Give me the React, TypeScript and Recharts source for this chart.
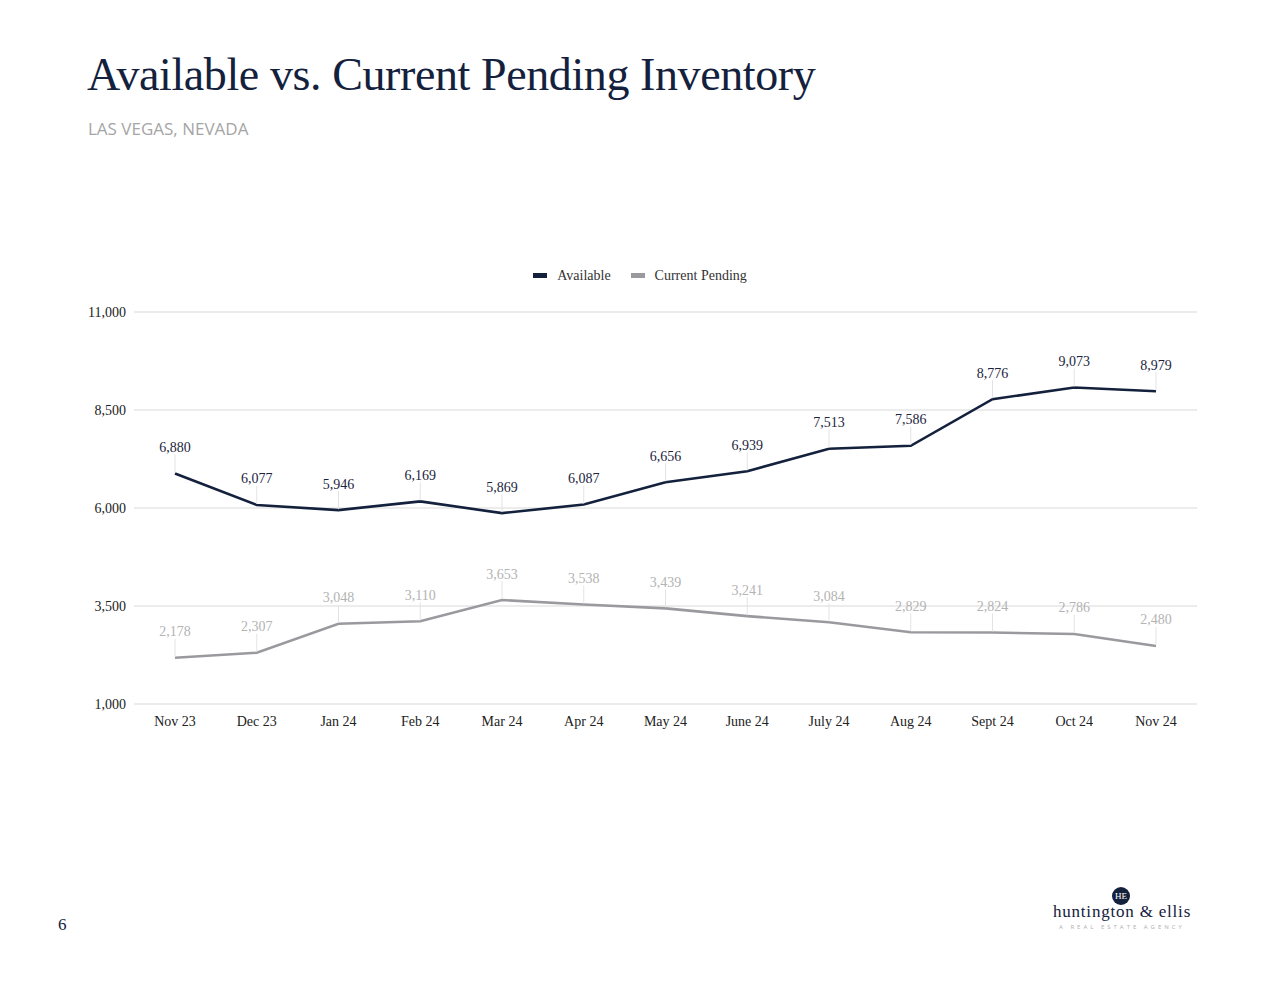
import React from 'react';
import { LineChart, Line, XAxis, YAxis, CartesianGrid, LabelList } from 'recharts';

const months = ['Nov 23', 'Dec 23', 'Jan 24', 'Feb 24', 'Mar 24', 'Apr 24', 'May 24', 'June 24', 'July 24', 'Aug 24', 'Sept 24', 'Oct 24', 'Nov 24'];
const available = [6880, 6077, 5946, 6169, 5869, 6087, 6656, 6939, 7513, 7586, 8776, 9073, 8979];
const pending = [2178, 2307, 3048, 3110, 3653, 3538, 3439, 3241, 3084, 2829, 2824, 2786, 2480];
const yTicks = [1000, 3500, 6000, 8500, 11000];

const NAVY = '#14213d';
const GRAY = '#9a999e';
const SERIF = '"Liberation Serif", "DejaVu Serif", serif';

const chartData = months.map((m, i) => ({ month: m, available: available[i], pending: pending[i] }));

const fmt = (v: number) => v.toLocaleString('en-US');

// value label with a thin leader line down to the point
const makeLabel = (color: string) => (props: any) => {
  const { x, y, value } = props;
  return (
    <g>
      <line x1={x} y1={y - 1} x2={x} y2={y - 19} stroke="#e3e3e3" strokeWidth={1} />
      <text x={x} y={y - 26} textAnchor="middle" dominantBaseline="central" fontFamily={SERIF} fontSize={14} fill={color}>
        {fmt(value)}
      </text>
    </g>
  );
};

const XTick = ({ x, y, payload }: any) => (
  <text x={x} y={y + 9} textAnchor="middle" dominantBaseline="central" fontFamily={SERIF} fontSize={14} fill="#222">
    {payload.value}
  </text>
);

const YTick = ({ x, y, payload }: any) => (
  <text x={x} y={y} textAnchor="end" dominantBaseline="central" fontFamily={SERIF} fontSize={14} fill="#222">
    {fmt(payload.value)}
  </text>
);

const LegendItem = ({ color, label }: { color: string; label: string }) => (
  <span style={{ display: 'inline-flex', alignItems: 'center', marginRight: 20 }}>
    <span style={{ display: 'inline-block', width: 14, height: 5, background: color, marginRight: 10 }} />
    <span>{label}</span>
  </span>
);

export default function App() {
  return (
    <div style={{ position: 'absolute', left: 0, top: 0, width: 1280, height: 989, background: '#fff', overflow: 'hidden' }}>
      <div style={{ position: 'absolute', left: 87, top: 48, fontFamily: SERIF, fontSize: 46, color: NAVY, letterSpacing: -0.4, whiteSpace: 'nowrap' }}>
        Available vs. Current Pending Inventory
      </div>
      <div style={{ position: 'absolute', left: 88, top: 117, fontFamily: '"Open Sans", sans-serif', fontSize: 17, color: '#a5a5a5', letterSpacing: 0 }}>
        LAS VEGAS, NEVADA
      </div>

      <div style={{ position: 'absolute', left: 10, width: 1280, top: 266, textAlign: 'center', fontFamily: SERIF, fontSize: 14, color: '#333' }}>
        <LegendItem color={NAVY} label="Available" />
        <LegendItem color={GRAY} label="Current Pending" />
      </div>

      <div style={{ position: 'absolute', left: 0, top: 290 }}>
        <LineChart width={1280} height={460} data={chartData} margin={{ top: 22, right: 83, left: 74, bottom: 16 }}>
          <CartesianGrid vertical={false} stroke="#d9d9d9" strokeWidth={1.2} />
          <XAxis dataKey="month" axisLine={false} tickLine={false} tick={<XTick />} height={30} interval={0} padding={{ left: 41, right: 41 }} />
          <YAxis domain={[1000, 11000]} ticks={yTicks} axisLine={false} tickLine={false} tickSize={0} tickMargin={8} width={60} tick={<YTick />} />
          <Line type="linear" dataKey="available" stroke={NAVY} strokeWidth={2.6} dot={false} isAnimationActive={false}>
            <LabelList dataKey="available" content={makeLabel('#1c2540')} />
          </Line>
          <Line type="linear" dataKey="pending" stroke={GRAY} strokeWidth={2.6} dot={false} isAnimationActive={false}>
            <LabelList dataKey="pending" content={makeLabel('#b3b3b3')} />
          </Line>
        </LineChart>
      </div>

      <div style={{ position: 'absolute', left: 58, top: 915, fontFamily: SERIF, fontSize: 17, color: NAVY }}>6</div>

      <div style={{ position: 'absolute', left: 1112, top: 887, width: 18, height: 18, borderRadius: 9, background: NAVY, color: '#fff', fontFamily: SERIF, fontSize: 9, lineHeight: '18px', textAlign: 'center' }}>
        HE
      </div>
      <div style={{ position: 'absolute', left: 1040, width: 164, top: 902, textAlign: 'center', fontFamily: SERIF, fontSize: 17, color: NAVY, letterSpacing: 0.8 }}>
        huntington &amp; ellis
      </div>
      <div style={{ position: 'absolute', left: 1040, width: 164, top: 923, textAlign: 'center', fontFamily: '"Open Sans", sans-serif', fontSize: 6, color: '#b0b0b0', letterSpacing: 3 }}>
        A REAL ESTATE AGENCY
      </div>
    </div>
  );
}
